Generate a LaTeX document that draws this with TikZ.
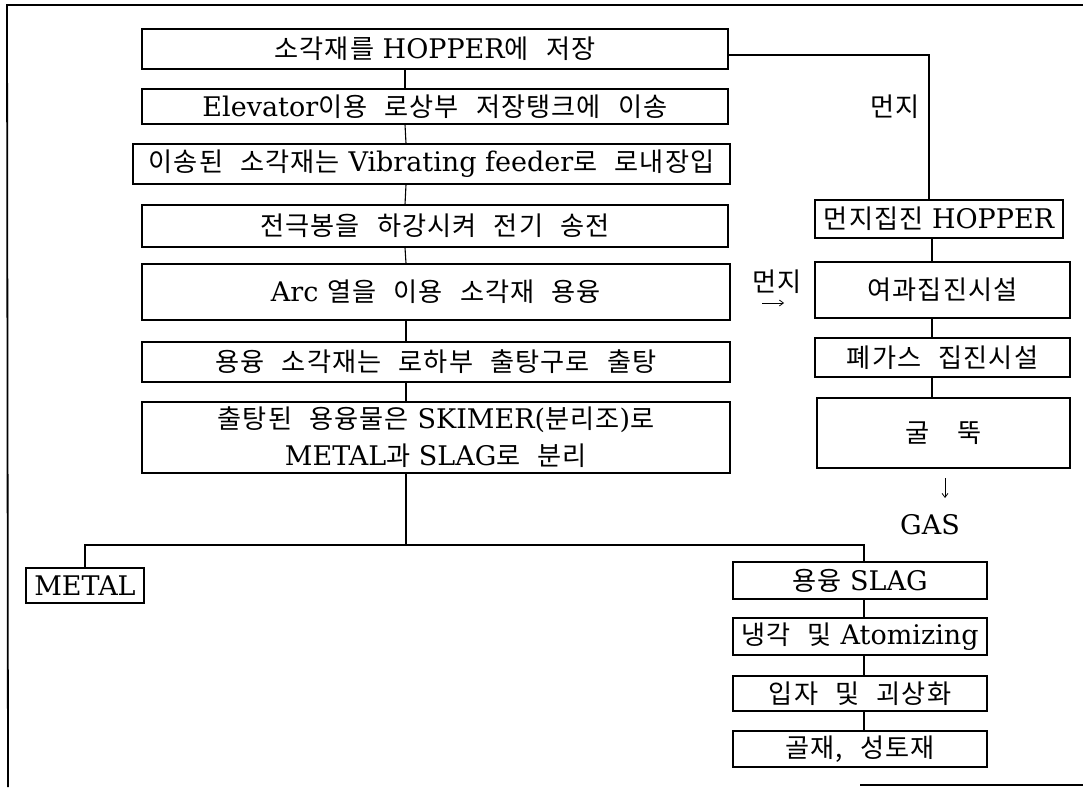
\documentclass[tikz,border=0pt]{standalone}
\usepackage{fontspec}
\setmainfont{DejaVu Serif}
\newfontfamily\kr[Scale=0.97,LetterSpace=4,WordSpace=2.5]{Noto Sans CJK KR}
\newcommand{\K}[1]{{\kr #1}}
\usetikzlibrary{arrows.meta}
\begin{document}
\begin{tikzpicture}[x=1pt,y=-1pt,
  pbox/.style={draw, line width=1.2pt, inner sep=0pt, align=center,
    font=\fontsize{27}{37}\selectfont},
  conn/.style={line width=1.1pt},
  lbl/.style={inner sep=0pt, font=\fontsize{27}{28}\selectfont},
  frame/.style={line width=1.8pt}]
\useasboundingbox (0,0) rectangle (1083,787);
% outer frame
\coordinate (fa) at (7,5);
\coordinate (fb) at (1083,5);
\coordinate (fc) at (8,787);
\coordinate (fd) at (860,785);
\coordinate (fe) at (1083,785);
\draw[frame] (fb) -- (fa) -- (fc);
\draw[frame] (fd) -- (fe);
% main column
\node[pbox, minimum width=586, minimum height=40] (b1) at (435,49) {\K{소각재를} HOPPER\K{에 저장}};
\node[pbox, minimum width=586, minimum height=35] (b2) at (435,106.5) {Elevator\K{이용 로상부 저장탱크에 이송}};
\node[pbox, minimum width=597, minimum height=40] (b3) at (431.5,164) {\K{이송된 소각재는} Vibrating feeder\K{로 로내장입}};
\node[pbox, minimum width=586, minimum height=42] (b4) at (435,226) {\K{전극봉을 하강시켜 전기 송전}};
\node[pbox, minimum width=588, minimum height=56] (b5) at (436,292) {Arc \K{열을 이용 소각재 용융}};
\node[pbox, minimum width=588, minimum height=40] (b6) at (436,362) {\K{용융 소각재는 로하부 출탕구로 출탕}};
\node[pbox, minimum width=588, minimum height=71] (b7) at (436,437.5) {\K{출탕된 용융물은} SKIMER(\K{분리조})\K{로}\\METAL\K{과} SLAG\K{로 분리}};
% right column
\node[pbox, minimum width=248, minimum height=38] (h1) at (939,219) {\K{먼지집진} HOPPER};
\node[pbox, minimum width=255, minimum height=56] (h2) at (942.5,290) {\K{여과집진시설}};
\node[pbox, minimum width=255, minimum height=39] (h3) at (942.5,357.5) {\K{폐가스 집진시설}};
\node[pbox, minimum width=253, minimum height=70] (h4) at (943.5,433) {\K{굴\hspace{1.1em}뚝}};
% bottom
\node[pbox, minimum width=118, minimum height=35] (m) at (85,585.5) {METAL};
\node[pbox, minimum width=254, minimum height=37] (s1) at (860,580.5) {\K{용융} SLAG};
\node[pbox, minimum width=254, minimum height=37] (s2) at (860,636.5) {\K{냉각 및} Atomizing};
\node[pbox, minimum width=254, minimum height=35] (s3) at (860,693.5) {\K{입자 및 괴상화}};
\node[pbox, minimum width=254, minimum height=36] (s4) at (860,749) {\K{골재, 성토재}};
% labels
\node[lbl] (d1) at (895,107) {\K{먼지}};
\node[lbl] (d2) at (777,282) {\K{먼지}};
\node[lbl] (gas) at (930,525) {GAS};
\coordinate (a1) at (762,303);
\coordinate (a2) at (784,303);
\draw[conn, line width=0.8pt, -{Straight Barb[length=4pt,width=6pt]}] (a1) -- (a2);
\coordinate (g1) at (945,478);
\coordinate (g2) at (945,498);
\draw[conn, line width=0.8pt, -{Straight Barb[length=4pt,width=6pt]}] (g1) -- (g2);
% main connectors
\draw[conn] ([xshift=-30pt]b1.south) -- ([xshift=-30pt]b2.north);
\draw[conn] ([xshift=-30pt]b2.south) -- ([xshift=-25.5pt]b3.north);
\draw[conn] ([xshift=-25.5pt]b3.south) -- ([xshift=-30pt]b4.north);
\draw[conn] ([xshift=-30pt]b4.south) -- ([xshift=-30pt]b5.north);
\draw[conn] ([xshift=-30pt]b5.south) -- ([xshift=-30pt]b6.north);
\draw[conn] ([xshift=-30pt]b6.south) -- ([xshift=-30pt]b7.north);
\coordinate (j) at (406,545);
\draw[conn] ([xshift=-30pt]b7.south) -- (j);
\draw[conn] (m.north) |- (j) -| ([xshift=4pt]s1.north);
\draw[conn] ([xshift=4pt]s1.south) -- ([xshift=4pt]s2.north);
\draw[conn] ([xshift=4pt]s2.south) -- ([xshift=4pt]s3.north);
\draw[conn] ([xshift=4pt]s3.south) -- ([xshift=4pt]s4.north);
% right connectors
\draw[conn] ([yshift=-6pt]b1.east) -| ([xshift=-10pt]h1.north);
\draw[conn] ([xshift=-7pt]h1.south) -- ([xshift=-10.5pt]h2.north);
\draw[conn] ([xshift=-10.5pt]h2.south) -- ([xshift=-10.5pt]h3.north);
\draw[conn] ([xshift=-10.5pt]h3.south) -- ([xshift=-11.5pt]h4.north);
\end{tikzpicture}
\end{document}
